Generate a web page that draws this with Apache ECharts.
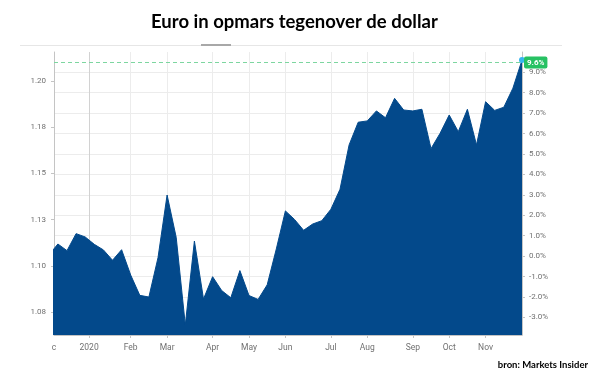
<!DOCTYPE html>
<html><head><meta charset="utf-8">
<script src="https://cdn.jsdelivr.net/npm/echarts@6/dist/echarts.min.js"></script>
<style>html,body{margin:0;padding:0;background:#fff}#c{width:600px;height:380px}</style>
</head><body><div id="c"></div>
<script>
// Weekly EUR/USD closes (Mondays)
const dates = [
  '2019-12-02','2019-12-09','2019-12-16','2019-12-23','2019-12-30',
  '2020-01-06','2020-01-13','2020-01-20','2020-01-27',
  '2020-02-03','2020-02-10','2020-02-17','2020-02-24',
  '2020-03-02','2020-03-09','2020-03-16','2020-03-23','2020-03-30',
  '2020-04-06','2020-04-13','2020-04-20','2020-04-27',
  '2020-05-04','2020-05-11','2020-05-18','2020-05-25',
  '2020-06-01','2020-06-08','2020-06-15','2020-06-22','2020-06-29',
  '2020-07-06','2020-07-13','2020-07-20','2020-07-27',
  '2020-08-03','2020-08-10','2020-08-17','2020-08-24','2020-08-31',
  '2020-09-07','2020-09-14','2020-09-21','2020-09-28',
  '2020-10-05','2020-10-12','2020-10-19','2020-10-26',
  '2020-11-02','2020-11-09','2020-11-16','2020-11-23','2020-11-30'
];
const rates = [
  1.1058, 1.1118, 1.1082, 1.1174, 1.1156,
  1.1116, 1.1086, 1.1030, 1.1087,
  1.0950, 1.0840, 1.0831, 1.1044,
  1.1383, 1.1154, 1.0680, 1.1134, 1.0820,
  1.0941, 1.0866, 1.0827, 1.0974,
  1.0839, 1.0818, 1.0897, 1.1091,
  1.1297, 1.1251, 1.1192, 1.1226, 1.1244,
  1.1306, 1.1414, 1.1654, 1.1777,
  1.1784, 1.1838, 1.1801, 1.1906, 1.1843,
  1.1838, 1.1847, 1.1634, 1.1717,
  1.1816, 1.1726, 1.1847, 1.1654,
  1.1888, 1.1841, 1.1858, 1.1961, 1.2113
];
const baseRate = 1.10525;           // 0.0% reference level
const xStartDate = '2019-12-06';
const xEdgeLabel = 'c';
const xTickDates = ['2020-01-02','2020-02-03','2020-03-02','2020-04-06','2020-05-04','2020-06-01',
                    '2020-07-06','2020-08-03','2020-09-07','2020-10-05','2020-11-02'];
const xTickLabels = ['2020','Feb','Mar','Apr','May','Jun','Jul','Aug','Sep','Oct','Nov'];
const leftTickValues = [1.075, 1.100, 1.125, 1.150, 1.175, 1.200];
const leftTickLabels = ['1.08', '1.10', '1.13', '1.15', '1.18', '1.20'];
const rightTickValues = [-3, -2, -1, 0, 1, 2, 3, 4, 5, 6, 7, 8, 9];
const leftMin = 1.06255, leftMax = 1.21569;

const toTs = s => new Date(s + 'T00:00:00').getTime();
const dateTs = dates.map(toTs);
const tickTs = xTickDates.map(toTs);
const labelTs = [toTs(xStartDate)].concat(tickTs);
const labelTexts = [xEdgeLabel].concat(xTickLabels);
const pct = v => (v / baseRate - 1) * 100;
const maxRate = Math.max(...rates);

const gray = '#707070';
const chart = echarts.init(document.getElementById('c'));
chart.setOption({
  animation: false,
  backgroundColor: '#fff',
  title: {
    text: 'Euro in opmars tegenover de dollar',
    left: 146, top: 8,
    textStyle: { fontFamily: 'Lato', fontWeight: 'bold', fontSize: 18.5, color: '#000' }
  },
  graphic: [
    { type: 'line', shape: { x1: 20, y1: 45.5, x2: 562, y2: 45.5 }, style: { stroke: '#e6e6e6', lineWidth: 1 } },
    { type: 'rect', shape: { x: 201, y: 44, width: 30, height: 2 }, style: { fill: '#a8a8a8' } },
    { type: 'text', right: 12, top: 360,
      style: { text: 'bron: Markets Insider', font: 'bold 9.5px Lato', fill: '#000' } }
  ],
  grid: { left: 54, right: 78, top: 52, bottom: 45 },
  xAxis: {
    type: 'value',
    min: toTs(xStartDate), max: dateTs[dateTs.length - 1],
    axisLine: { onZero: false, lineStyle: { color: '#c4c4c4' } },
    axisTick: { customValues: tickTs, length: 3, lineStyle: { color: '#c4c4c4' } },
    axisLabel: {
      customValues: labelTs, margin: 8, fontFamily: 'Roboto', fontSize: 8.5, color: gray,
      formatter: v => {
        let best = 0, bd = Infinity;
        labelTs.forEach((t, i) => { const d = Math.abs(t - v); if (d < bd) { bd = d; best = i; } });
        return labelTexts[best];
      }
    },
    splitLine: { show: true, lineStyle: { color: ['#d2d2d2'].concat(xTickLabels.slice(1).map(() => '#ececec')) } }
  },
  yAxis: [
    {
      type: 'value', min: leftMin, max: leftMax, position: 'left',
      axisLine: { show: true, lineStyle: { color: '#c4c4c4' } },
      axisTick: { show: true, customValues: leftTickValues, length: 3, lineStyle: { color: '#c4c4c4' } },
      axisLabel: {
        customValues: leftTickValues, margin: 8, fontFamily: 'Roboto', fontSize: 8, color: gray,
        formatter: v => { const i = leftTickValues.findIndex(t => Math.abs(t - v) < 1e-6); return i >= 0 ? leftTickLabels[i] : ''; }
      },
      splitLine: { show: false }
    },
    {
      type: 'value', min: pct(leftMin), max: pct(leftMax), position: 'right',
      axisLine: { show: true, lineStyle: { color: '#c4c4c4' } },
      axisTick: { show: true, customValues: rightTickValues, length: 3, lineStyle: { color: '#c4c4c4' } },
      axisLabel: {
        customValues: rightTickValues, margin: 7, fontFamily: 'Roboto', fontSize: 8, color: gray,
        formatter: v => v.toFixed(1) + '%'
      },
      splitLine: { show: true, lineStyle: { color: '#ececec' } }
    }
  ],
  series: [{
    type: 'line',
    yAxisIndex: 0,
    data: dateTs.map((t, i) => [t, rates[i]]),
    showSymbol: false,
    lineStyle: { color: '#03498b', width: 1 },
    areaStyle: { color: '#03498b', opacity: 1, origin: 'start' },
    clip: true,
    markPoint: {
      symbol: 'circle', symbolSize: 6,
      itemStyle: { color: '#38b6f0' },
      label: { show: false },
      data: [{ type: 'max' }]
    },
    markLine: {
      symbol: 'none', silent: true,
      lineStyle: { color: '#7dd6a0', type: [4, 3], width: 1 },
      label: {
        position: 'end', distance: 2,
        formatter: () => pct(maxRate).toFixed(1) + '%',
        backgroundColor: '#27c163', color: '#fff', fontFamily: 'Roboto', fontWeight: 'bold',
        fontSize: 8, padding: [2, 3], borderRadius: 2
      },
      data: [{ yAxis: maxRate }]
    }
  }]
});
</script></body></html>
